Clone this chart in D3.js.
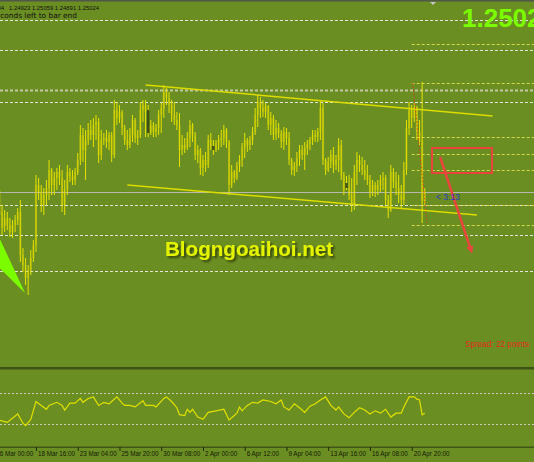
<!DOCTYPE html>
<html>
<head>
<meta charset="utf-8">
<script src="https://cdn.jsdelivr.net/npm/d3@7"></script>
<style>
body { margin: 0; background: #6b8e23; }
svg { display: block; }
text { font-family: "Liberation Sans", Arial, sans-serif; }
</style>
</head>
<body>
<div id="chart"></div>
<script>
// H4 candles, [open, high, low, close], first one is bar index 2
var firstBar = 2;
var candles = [
  [1.2504,1.2514,1.2469,1.2479],[1.2482,1.2489,1.2459,1.2466],[1.2468,1.2484,1.2462,1.2476],[1.2476,1.2482,1.2464,1.2469],
  [1.2469,1.2476,1.2457,1.2462],[1.2462,1.2474,1.2456,1.2469],[1.2469,1.2479,1.2462,1.2474],[1.2474,1.2486,1.2469,1.2482],
  [1.2482,1.2494,1.2432,1.2439],[1.2439,1.2446,1.2422,1.2429],[1.2429,1.2436,1.2409,1.2416],[1.2416,1.2429,1.2399,1.2424],
  [1.2424,1.2444,1.2419,1.2436],[1.2436,1.2454,1.2432,1.2449],[1.2449,1.2519,1.2442,1.2509],[1.2509,1.2516,1.2494,1.2502],
  [1.2502,1.2509,1.2482,1.2489],[1.2489,1.2506,1.2479,1.2499],[1.2499,1.2514,1.2489,1.2506],[1.2506,1.2534,1.2494,1.2524],
  [1.2524,1.2526,1.2499,1.2509],[1.2509,1.2522,1.2499,1.2516],[1.2516,1.2526,1.2504,1.2522],[1.2522,1.2529,1.2509,1.2516],
  [1.2516,1.2524,1.2482,1.2489],[1.2489,1.2514,1.2479,1.2504],[1.2504,1.2529,1.2499,1.2522],[1.2522,1.2526,1.2512,1.2518],
  [1.2518,1.2524,1.2509,1.2514],[1.2514,1.2526,1.2509,1.2522],[1.2522,1.2541,1.2519,1.2534],[1.2534,1.2569,1.2529,1.2559],
  [1.2559,1.2566,1.2532,1.2544],[1.2544,1.2564,1.2514,1.2554],[1.2554,1.2571,1.2549,1.2564],[1.2564,1.2574,1.2554,1.2559],
  [1.2559,1.2576,1.2547,1.2569],[1.2569,1.2579,1.2554,1.2572],[1.2572,1.2576,1.2531,1.2539],[1.2539,1.2564,1.2534,1.2554],
  [1.2554,1.2561,1.2549,1.2556],[1.2556,1.2564,1.2546,1.2552],[1.2552,1.2562,1.2544,1.2559],[1.2559,1.2562,1.2532,1.2539],
  [1.2539,1.2594,1.2536,1.2584],[1.2584,1.2592,1.2569,1.2576],[1.2576,1.2589,1.2571,1.2582],[1.2582,1.2584,1.2559,1.2566],
  [1.2566,1.2569,1.2549,1.2554],[1.2554,1.2564,1.2544,1.2549],[1.2549,1.2566,1.2546,1.2559],[1.2559,1.2579,1.2552,1.2574],
  [1.2574,1.2576,1.2551,1.2556],[1.2556,1.2564,1.2549,1.2559],[1.2559,1.2592,1.2556,1.2584],[1.2584,1.2594,1.2572,1.2589],
  [1.2589,1.2594,1.2557,1.2582],[1.2584,1.2589,1.2557,1.2561],[1.2561,1.2574,1.2559,1.2569],[1.2569,1.2572,1.2557,1.2562],
  [1.2562,1.2570,1.2557,1.2566],[1.2566,1.2584,1.2559,1.2579],[1.2579,1.2591,1.2561,1.2586],[1.2586,1.2609,1.2576,1.2602],
  [1.2602,1.2606,1.2589,1.2596],[1.2596,1.2602,1.2581,1.2589],[1.2589,1.2594,1.2572,1.2579],[1.2579,1.2592,1.2569,1.2574],
  [1.2574,1.2582,1.2564,1.2569],[1.2569,1.2581,1.2527,1.2544],[1.2544,1.2559,1.2539,1.2549],[1.2549,1.2556,1.2541,1.2546],
  [1.2546,1.2562,1.2544,1.2556],[1.2556,1.2574,1.2547,1.2569],[1.2569,1.2571,1.2552,1.2559],[1.2559,1.2562,1.2534,1.2539],
  [1.2539,1.2549,1.2531,1.2544],[1.2544,1.2546,1.2519,1.2526],[1.2526,1.2539,1.2518,1.2534],[1.2534,1.2542,1.2522,1.2529],
  [1.2529,1.2559,1.2526,1.2554],[1.2554,1.2561,1.2544,1.2548],[1.2548,1.2554,1.2539,1.2544],[1.2544,1.2554,1.2542,1.2551],
  [1.2551,1.2559,1.2544,1.2554],[1.2554,1.2564,1.2547,1.2556],[1.2556,1.2569,1.2549,1.2564],[1.2564,1.2566,1.2546,1.2552],
  [1.2552,1.2554,1.2499,1.2509],[1.2509,1.2529,1.2506,1.2522],[1.2522,1.2524,1.2511,1.2516],[1.2516,1.2532,1.2514,1.2528],
  [1.2528,1.2539,1.2522,1.2534],[1.2534,1.2551,1.2527,1.2546],[1.2546,1.2561,1.2536,1.2554],[1.2554,1.2556,1.2542,1.2549],
  [1.2549,1.2558,1.2544,1.2554],[1.2554,1.2567,1.2549,1.2562],[1.2562,1.2586,1.2559,1.2579],[1.2579,1.2599,1.2567,1.2592],
  [1.2592,1.2597,1.2576,1.2586],[1.2586,1.2594,1.2577,1.2582],[1.2582,1.2591,1.2576,1.2588],[1.2588,1.2589,1.2564,1.2569],
  [1.2569,1.2582,1.2559,1.2576],[1.2576,1.2579,1.2554,1.2559],[1.2559,1.2574,1.2554,1.2566],[1.2566,1.2571,1.2556,1.2561],
  [1.2561,1.2564,1.2546,1.2552],[1.2552,1.2567,1.2544,1.2562],[1.2562,1.2566,1.2549,1.2556],[1.2556,1.2562,1.2529,1.2534],
  [1.2534,1.2536,1.2519,1.2524],[1.2524,1.2532,1.2518,1.2528],[1.2528,1.2542,1.2522,1.2536],[1.2536,1.2549,1.2528,1.2544],
  [1.2544,1.2549,1.2534,1.2539],[1.2539,1.2552,1.2524,1.2546],[1.2546,1.2554,1.2539,1.2550],[1.2550,1.2557,1.2544,1.2554],
  [1.2554,1.2564,1.2549,1.2559],[1.2559,1.2564,1.2552,1.2557],[1.2557,1.2566,1.2552,1.2562],[1.2562,1.2594,1.2554,1.2586],
  [1.2586,1.2591,1.2529,1.2534],[1.2534,1.2536,1.2519,1.2524],[1.2524,1.2537,1.2522,1.2532],[1.2532,1.2544,1.2526,1.2539],
  [1.2539,1.2547,1.2521,1.2529],[1.2529,1.2539,1.2524,1.2534],[1.2534,1.2556,1.2522,1.2549],[1.2549,1.2554,1.2514,1.2519],
  [1.2519,1.2522,1.2499,1.2504],[1.2511,1.2518,1.2504,1.2506],[1.2506,1.2519,1.2494,1.2499],[1.2499,1.2516,1.2482,1.2489],
  [1.2489,1.2529,1.2484,1.2522],[1.2522,1.2542,1.2509,1.2534],[1.2534,1.2539,1.2522,1.2529],[1.2529,1.2537,1.2519,1.2524],
  [1.2524,1.2534,1.2514,1.2519],[1.2519,1.2529,1.2509,1.2514],[1.2514,1.2519,1.2496,1.2502],[1.2502,1.2514,1.2498,1.2509],
  [1.2509,1.2512,1.2497,1.2504],[1.2504,1.2514,1.2499,1.2509],[1.2509,1.2519,1.2502,1.2514],[1.2514,1.2522,1.2504,1.2516],
  [1.2516,1.2519,1.2489,1.2494],[1.2494,1.2499,1.2476,1.2484],[1.2484,1.2529,1.2482,1.2522],[1.2522,1.2526,1.2506,1.2512],
  [1.2512,1.2522,1.2499,1.2506],[1.2506,1.2519,1.2491,1.2499],[1.2499,1.2509,1.2486,1.2494],[1.2494,1.2532,1.2489,1.2524],
  [1.2524,1.2574,1.2519,1.2566],[1.2566,1.2592,1.2559,1.2584],[1.2584,1.2589,1.2566,1.2576],[1.2576,1.2591,1.2572,1.2586],
  [1.2586,1.2588,1.2554,1.2562],[1.2562,1.2574,1.2549,1.2554],[1.2554,1.2612,1.2471,1.2493],[1.24923,1.25059,1.24891,1.25024]
];
var darkBars = [59, 84, 135];

var tickLabels = ["16 Mar 00:00", "18 Mar 16:00", "23 Mar 04:00", "25 Mar 20:00", "30 Mar 08:00", "2 Apr 00:00",
                  "6 Apr 12:00", "9 Apr 04:00", "13 Apr 16:00", "16 Apr 08:00", "20 Apr 20:00"];

var gridLevels = [1.2674, 1.2644, 1.2604, 1.2592, 1.2489, 1.2459, 1.2423];
var zoneLevels = [1.2650, 1.2611, 1.2557, 1.2540, 1.2524, 1.2489, 1.2469];
var zoneStart = 160;
var bidPrice = 1.25024;

var upperTrend = [[58, 1.2609], [191, 1.2578]];
var lowerTrend = [[51, 1.2509], [185, 1.2479]];
var redDots = [[160.4, 1.2611], [165.9, 1.2471]];
var boxPts = [[167.8, 1.2546], [190.8, 1.2521]];
var arrowPts = [[170.9, 1.2537], [182.7, 1.2444]];
var greenArrow = [[2, 1.2456], [11.8, 1.2401], [2, 1.2426]];

// oscillator in the lower window, [bar index, value]
var oscIdx = [2,5,9,11,12,14,16,18,20,21,24,26,27,29,31,33,34,36,38,40,42,44,45,47,49,50,52,54,57,58,61,62,65,66,68,70,71,73,74,75,76,78,80,82,85,88,90,91,93,94,95,97,99,101,103,106,108,110,111,113,115,117,119,121,123,125,127,129,131,132,134,136,138,140,142,144,146,148,150,152,154,156,157,159,161,162,163,164,165];
var oscVal = [35,32,43,31,28,36,59,54,49,54,58,54,48,57,57,63,58,63,65,54,58,56,59,65,57,54,54,52,60,54,54,52,63,65,59,51,42,41,49,45,49,39,36,45,47,49,35,38,44,52,47,54,58,57,61,59,56,61,52,48,56,51,45,53,56,61,65,54,48,52,43,38,45,51,48,43,47,44,49,39,44,44,52,65,65,62,61,42,44];
var oscLevels = [30, 70];

var W = 534, H = 462;
var mainBottom = 367, axisY = 447;

var svg = d3.select("#chart").append("svg")
    .attr("width", W)
    .attr("height", H);

svg.append("rect").attr("width", W).attr("height", H).attr("fill", "#6b8e23");

var x = d3.scaleLinear().domain([0, 160]).range([-5.75, 411.7]);
var y = d3.scaleLinear().domain([1.2694, 1.2327]).range([0, mainBottom]);
var yo = d3.scaleLinear().domain([30, 70]).range([424, 393]);

var defs = svg.append("defs");
defs.append("clipPath").attr("id", "clipMain")
  .append("rect").attr("x", 0).attr("y", 0).attr("width", W).attr("height", mainBottom);
defs.append("clipPath").attr("id", "clipOsc")
  .append("rect").attr("x", 0).attr("y", mainBottom + 2).attr("width", W).attr("height", axisY - mainBottom - 2);

// soft dark shadow for the watermark
var shadow = defs.append("filter").attr("id", "shadow")
    .attr("x", "-10%").attr("y", "-30%").attr("width", "120%").attr("height", "160%");
shadow.append("feGaussianBlur").attr("in", "SourceAlpha").attr("stdDeviation", 1.1).attr("result", "b");
shadow.append("feOffset").attr("in", "b").attr("dx", 2).attr("dy", 2).attr("result", "o");
shadow.append("feFlood").attr("flood-color", "#2a360a").attr("flood-opacity", 0.85);
shadow.append("feComposite").attr("in2", "o").attr("operator", "in").attr("result", "s");
var merge = shadow.append("feMerge");
merge.append("feMergeNode").attr("in", "s");
merge.append("feMergeNode").attr("in", "SourceGraphic");

defs.append("marker").attr("id", "head")
    .attr("viewBox", "0 0 10 10").attr("refX", 5).attr("refY", 5)
    .attr("markerWidth", 3).attr("markerHeight", 3).attr("orient", "auto")
  .append("path").attr("d", "M0,0L10,5L0,10z").attr("fill", "#e8463c");

var main = svg.append("g").attr("clip-path", "url(#clipMain)");

// horizontal levels
main.selectAll(".grid").data(gridLevels).enter().append("line")
    .attr("x1", 0).attr("x2", W)
    .attr("y1", function(d) { return Math.round(y(d)) + 0.5; })
    .attr("y2", function(d) { return Math.round(y(d)) + 0.5; })
    .attr("stroke", function(d, i) { return i == 2 ? "#c4c8a8" : "#e4e4dc"; })
    .attr("stroke-width", function(d, i) { return i == 2 ? 2 : 1; })
    .attr("stroke-dasharray", "3,2");

main.selectAll(".zone").data(zoneLevels).enter().append("line")
    .attr("x1", x(zoneStart)).attr("x2", W)
    .attr("y1", function(d) { return Math.round(y(d)) + 0.5; })
    .attr("y2", function(d) { return Math.round(y(d)) + 0.5; })
    .attr("stroke", "#d6d84a")
    .attr("stroke-dasharray", "3,2");

main.append("line")
    .attr("x1", 0).attr("x2", W)
    .attr("y1", Math.round(y(bidPrice)) + 0.5).attr("y2", Math.round(y(bidPrice)) + 0.5)
    .attr("stroke", "#b8b8b0");

// candles
var bars = main.selectAll(".bar").data(candles).enter().append("g");
bars.append("line")
    .attr("x1", function(d, i) { return x(i + firstBar); })
    .attr("x2", function(d, i) { return x(i + firstBar); })
    .attr("y1", function(d) { return y(d[1]); })
    .attr("y2", function(d) { return y(d[2]); })
    .attr("stroke", "#e6e200")
    .attr("stroke-width", 1);
bars.append("rect")
    .attr("x", function(d, i) { return x(i + firstBar) - 1.1; })
    .attr("width", 2.2)
    .attr("y", function(d) { return y(Math.max(d[0], d[3])); })
    .attr("height", function(d) { return Math.max(1, Math.abs(y(d[0]) - y(d[3]))); })
    .attr("fill", function(d, i) { return darkBars.indexOf(i + firstBar) >= 0 ? "#2c3a12" : "#d8d400"; })
    .attr("opacity", function(d, i) { return darkBars.indexOf(i + firstBar) >= 0 ? 0.85 : 0.42; });

// trend lines
[upperTrend, lowerTrend].forEach(function(t) {
  main.append("line")
      .attr("x1", x(t[0][0])).attr("y1", y(t[0][1]))
      .attr("x2", x(t[1][0])).attr("y2", y(t[1][1]))
      .attr("stroke", "#dcdc00")
      .attr("stroke-width", 1.5);
});

main.append("line")
    .attr("x1", x(redDots[0][0])).attr("y1", y(redDots[0][1]))
    .attr("x2", x(redDots[1][0])).attr("y2", y(redDots[1][1]))
    .attr("stroke", "#e0401c")
    .attr("stroke-dasharray", "1.5,2");

main.append("rect")
    .attr("x", x(boxPts[0][0])).attr("y", y(boxPts[0][1]))
    .attr("width", x(boxPts[1][0]) - x(boxPts[0][0]))
    .attr("height", y(boxPts[1][1]) - y(boxPts[0][1]))
    .attr("fill", "none")
    .attr("stroke", "#e8463c")
    .attr("stroke-width", 2);

main.append("line")
    .attr("x1", x(arrowPts[0][0])).attr("y1", y(arrowPts[0][1]))
    .attr("x2", x(arrowPts[1][0])).attr("y2", y(arrowPts[1][1]))
    .attr("stroke", "#e8463c")
    .attr("stroke-width", 2.5)
    .attr("marker-end", "url(#head)");

main.append("path")
    .attr("d", d3.line().x(function(d) { return x(d[0]); }).y(function(d) { return y(d[1]); })(greenArrow) + "Z")
    .attr("fill", "#7cfc00");

// texts in main window
svg.append("rect").attr("width", W).attr("height", 1.5).attr("fill", "#505848");
svg.append("path").attr("d", "M430,2L436,2L433,5Z").attr("fill", "#c8c8c8");

svg.append("text").attr("x", 4).attr("y", 9.5).attr("text-anchor", "end")
    .style("font-size", "5.9px").attr("fill", "#111").text("GBPUSD,H4");
svg.append("text").attr("x", 9).attr("y", 9.5)
    .style("font-size", "5.9px").attr("fill", "#111")
    .text("1.24923 1.25059 1.24891 1.25024");
svg.append("text").attr("x", 77).attr("y", 17.5).attr("text-anchor", "end")
    .style("font-size", "7.4px").style("font-family", "'DejaVu Sans', sans-serif").attr("fill", "#111")
    .text("2 hours 46 minutes 47 seconds left to bar end");

svg.append("text").attr("x", 462).attr("y", 27)
    .style("font-size", "26px").style("font-weight", "bold")
    .attr("fill", "#7cfc00").text("1.2502");

svg.append("text").attr("x", 165).attr("y", 256)
    .style("font-size", "20.6px").style("font-weight", "bold")
    .attr("fill", "#e4f400").attr("filter", "url(#shadow)")
    .text("Blogngoaihoi.net");

svg.append("text").attr("x", 436).attr("y", 200)
    .style("font-size", "8.5px").attr("fill", "#2a36c8").text("< 3:13");

svg.append("text").attr("x", 465).attr("y", 347)
    .style("font-size", "8.2px").attr("fill", "#e02a1a").text("Spread: 22 points");

// indicator window
svg.append("rect").attr("x", 0).attr("y", mainBottom).attr("width", W).attr("height", 2.5).attr("fill", "#3d5214");

var osc = svg.append("g").attr("clip-path", "url(#clipOsc)");
osc.selectAll(".lvl").data(oscLevels).enter().append("line")
    .attr("x1", 0).attr("x2", W)
    .attr("y1", function(d) { return Math.round(yo(d)) + 0.5; })
    .attr("y2", function(d) { return Math.round(yo(d)) + 0.5; })
    .attr("stroke", "#c8ccb8")
    .attr("stroke-dasharray", "2,2");

osc.append("path")
    .datum(d3.zip(oscIdx, oscVal))
    .attr("fill", "none")
    .attr("stroke", "#e0e000")
    .attr("stroke-width", 1.2)
    .attr("d", d3.line()
        .x(function(d) { return x(d[0]); })
        .y(function(d) { return yo(d[1]); }));

// time axis
svg.append("rect").attr("x", 0).attr("y", axisY - 0.5).attr("width", W).attr("height", 1.5).attr("fill", "#405616");

var xAxis = svg.append("g")
    .attr("transform", "translate(0," + axisY + ")")
    .call(d3.axisBottom(x)
        .tickValues(d3.range(0, 161, 16))
        .tickFormat(function(d, i) { return tickLabels[i]; })
        .tickSize(4));
xAxis.select(".domain").remove();
xAxis.selectAll(".tick line").attr("stroke", "#1e2a08");
xAxis.selectAll(".tick text")
    .attr("text-anchor", "start")
    .attr("x", 1.5)
    .attr("y", 4.5)
    .attr("fill", "#141a06")
    .style("font-size", "6.3px")
    .style("font-family", "'Liberation Sans', Arial, sans-serif");
</script>
</body>
</html>
